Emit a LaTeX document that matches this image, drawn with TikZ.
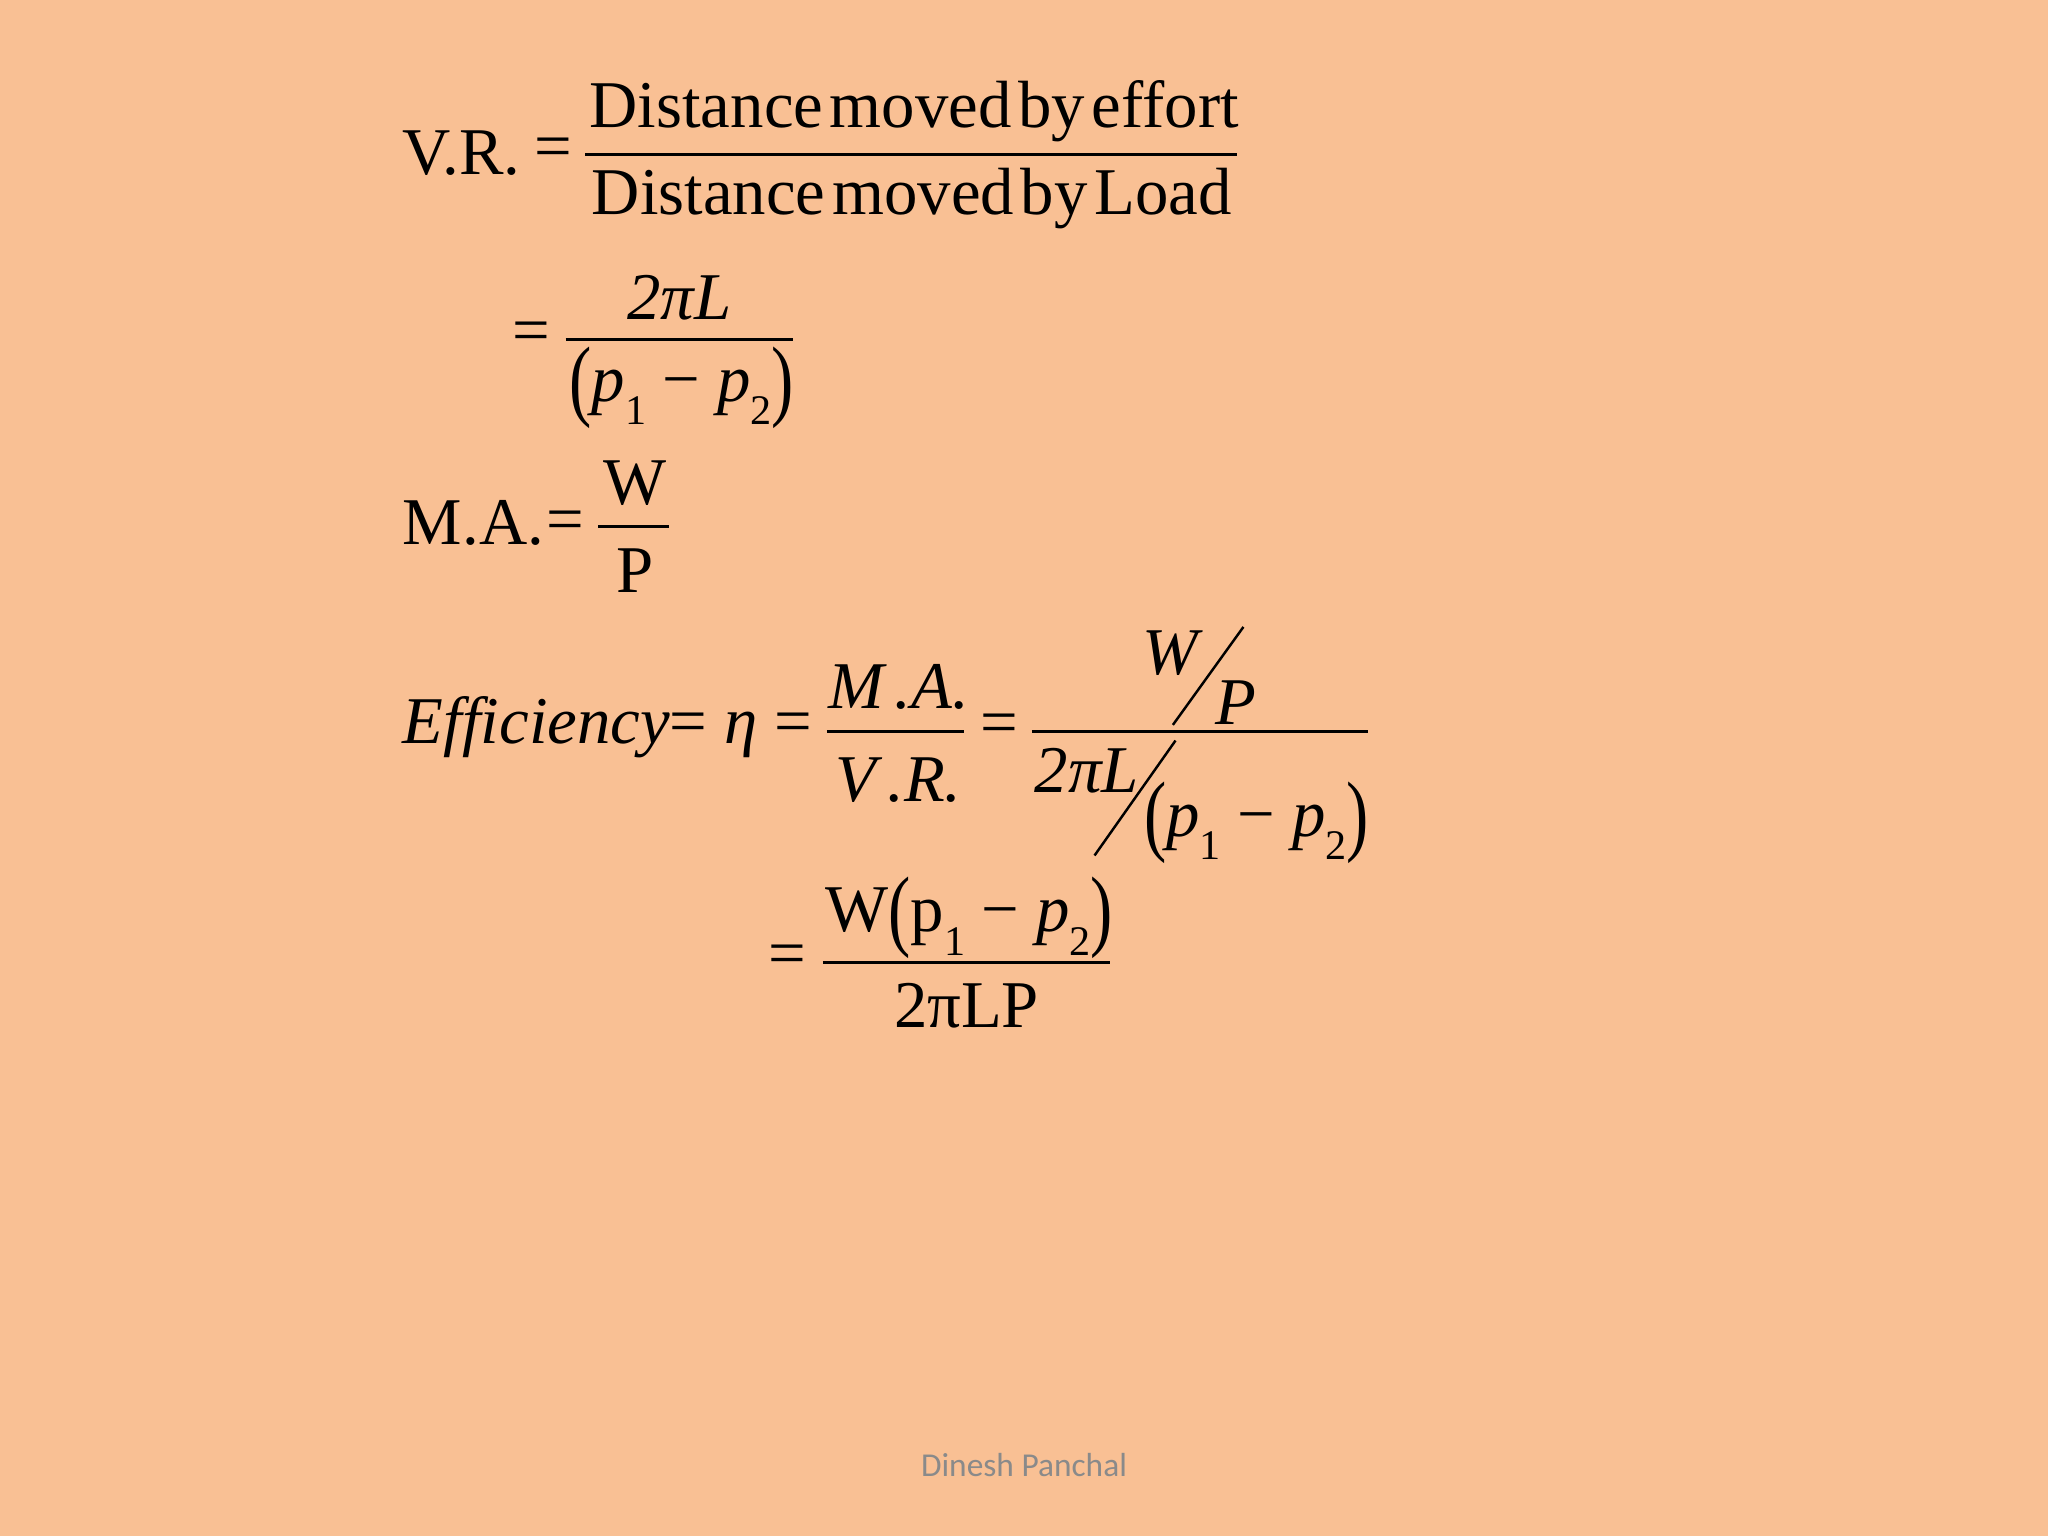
\documentclass[tikz,border=0pt]{standalone}
\usepackage{fontspec}
\setmainfont{Liberation Serif}
\newfontfamily\footfont{Carlito}
\definecolor{bg}{HTML}{F9C094}
\definecolor{foot}{HTML}{8A8A8A}
\newcommand{\bigp}[1]{\raisebox{-0.12em}{\scalebox{1}[1.35]{#1}}}
\newcommand{\sub}[1]{\raisebox{-0.35em}{\fontsize{12}{12}\selectfont #1}}
\newcommand{\ws}{\hspace{0.1em}}
\begin{document}
\begin{tikzpicture}[x=0.01306cm,y=-0.01306cm,
  eq/.style={inner sep=0pt,font=\fontsize{19}{23}\selectfont},
  bar/.style={line width=0.9pt}]
\fill[bg] (0,0) rectangle (1568,1176);
% V.R.
\node[eq,anchor=west] (vr) at (308,117) {V.R.};
\node[eq] (vre) at (424,117) {=};
\node[eq] (vrn) at (700,85) {Distance\ws moved\ws by\ws effort};
\node[eq] (vrd) at (698,152) {Distance\ws moved\ws by\ws Load};
\draw[bar] (448,118) -- (947,118);
% = 2piL/(p1-p2)
\node[eq] (e2) at (407,258) {=};
\node[eq] (n2) at (520,228) {\itshape 2πL};
\node[eq] (d2) at (522,297) {\bigp{(}\textit{p}\sub{1} − \textit{p}\sub{2}\bigp{)}};
\draw[bar] (433,260) -- (607,260);
% M.A.
\node[eq,anchor=west] (ma) at (308,400) {M.A.};
\node[eq] (mae) at (433,403) {=};
\node[eq] (man) at (486,370) {W};
\node[eq] (mad) at (486,437) {P};
\draw[bar] (458,403) -- (512,403);
% Efficiency
\node[eq,anchor=west] (ef) at (308,557) {\textit{Efficiency}= \textit{η} =};
\node[eq] (efn) at (688,526) {\textit{M\,.A.}};
\node[eq] (efd) at (688,597) {\textit{V\,.R.}};
\draw[bar] (633,560) -- (738,560);
\node[eq] (e3) at (765,558) {=};
\draw[bar] (790,560) -- (1047,560);
\node[eq] (w) at (898,500) {\textit{W}};
\node[eq] (p) at (946,538) {\textit{P}};
\draw[line width=0.7pt] (898,555) -- (952,480);
\node[eq] (tpl) at (832,590) {\itshape 2πL};
\draw[line width=0.7pt] (838,655) -- (900,567);
\node[eq] (pp) at (962,630) {\bigp{(}\textit{p}\sub{1} − \textit{p}\sub{2}\bigp{)}};
% final
\node[eq] (e4) at (603,735) {=};
\node[eq] (fn) at (742,703) {W\bigp{(}p\sub{1} − \textit{p}\sub{2}\bigp{)}};
\node[eq] (fd) at (740,770) {2πLP};
\draw[bar] (630,737) -- (850,737);
% footer
\node[inner sep=0pt,text=foot,font=\footfont\fontsize{9.5}{11}\selectfont] (ft) at (784,1122) {Dinesh Panchal};
\end{tikzpicture}
\end{document}
